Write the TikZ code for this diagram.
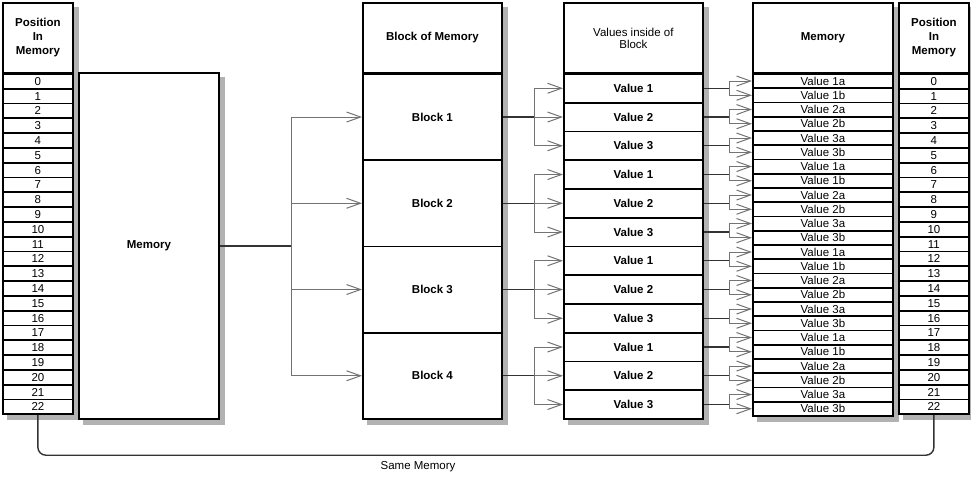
\documentclass[tikz,border=0pt]{standalone}
\usepackage{fontspec}
\setmainfont{Liberation Sans}
\usetikzlibrary{arrows.meta,backgrounds}

\begin{document}
\begin{tikzpicture}[
  x=1pt, y=-1pt,
  box/.style={draw, line width=1.8pt, fill=white, inner sep=1pt, anchor=north west,
    font=\fontsize{11.5}{12}\selectfont},
  hdr/.style={box, minimum height=70, align=center},
  poscell/.style={box, minimum width=70, minimum height=14.8},
  memcell/.style={box, minimum width=140, minimum height=14.25},
  valcell/.style={box, minimum width=139, minimum height=28.75, font=\fontsize{11.5}{12}\selectfont\bfseries},
  blkcell/.style={box, minimum width=139, minimum height=86.25, font=\fontsize{11.5}{12}\selectfont\bfseries},
  shadowbox/.style={fill=black!30},
  wire/.style={draw=black!80, line width=1.4pt},
  arr/.style={draw=black!55, line width=1pt, -{Straight Barb[length=14pt,width=10pt]}}]
\useasboundingbox (0,0) rectangle (971,477);

% headers
\node[hdr, minimum width=70, font=\fontsize{11.5}{14}\selectfont\bfseries] (posl) at (2,2) {Position\\In\\Memory};
\node[hdr, minimum width=139, font=\fontsize{11.5}{12}\selectfont\bfseries] (blkh) at (362,2) {Block of Memory};
\node[hdr, minimum width=139] (valh) at (563,2) {Values inside of\\Block};
\node[hdr, minimum width=140, font=\fontsize{11.5}{12}\selectfont\bfseries] (memh) at (752,2) {Memory};
\node[hdr, minimum width=70, font=\fontsize{11.5}{14}\selectfont\bfseries] (posr) at (898,2) {Position\\In\\Memory};

% position columns
\foreach \i in {0,...,22} {
  \node[poscell] (pl\i) at (2,{73+\i*14.8}) {\i};
  \node[poscell] (pr\i) at (898,{73+\i*14.8}) {\i};
}

% memory
\node[box, minimum width=140, minimum height=346, font=\fontsize{11.5}{12}\selectfont\bfseries] (mem) at (78,72) {Memory};

% blocks
\foreach \b in {1,...,4}
  \node[blkcell] (blk\b) at (362,{73+(\b-1)*86.25}) {Block \b};

% values
\foreach \b in {0,...,3}
  \foreach \v in {1,2,3} {
    \pgfmathtruncatemacro\n{\b*3+\v-1}
    \node[valcell] (val\n) at (563,{73+\n*28.75}) {Value \v};
  }

% memory cells
\foreach \b in {0,...,3}
  \foreach \v in {1,2,3}
    \foreach \s [count=\k from 0] in {a,b} {
      \pgfmathtruncatemacro\n{\b*6+(\v-1)*2+\k}
      \node[memcell] (m\n) at (752,{73+\n*14.25}) {Value \v\s};
    }

% shadows
\begin{pgfonlayer}{background}
  \foreach \a/\z in {posl/posl, pl0/pl22, mem/mem, blkh/blkh, blk1/blk4,
                     valh/valh, val0/val11, memh/memh, m0/m23, posr/posr, pr0/pr22}
    \fill[shadowbox] ([shift={(5,5)}]\a.north west) rectangle ([shift={(5,5)}]\z.south east);
\end{pgfonlayer}

% memory -> blocks
\draw[wire] (mem.east) -- ++(72,0) coordinate (hub);
\foreach \b in {1,...,4}
  \draw[arr] (hub) |- (blk\b.west);

% blocks -> values
\foreach \b in {1,...,4} {
  \draw[wire] (blk\b.east) -- ++(32,0) coordinate (bh\b);
  \foreach \k in {0,1,2} {
    \pgfmathtruncatemacro\j{(\b-1)*3+\k}
    \draw[arr] (bh\b) |- (val\j.west);
  }
}

% values -> memory cells
\foreach \n in {0,...,11} {
  \draw[wire] (val\n.east) -- ++(26,0) coordinate (vh\n);
  \pgfmathtruncatemacro\p{2*\n}
  \pgfmathtruncatemacro\q{2*\n+1}
  \draw[arr] (vh\n) |- (m\p.west);
  \draw[arr] (vh\n) |- (m\q.west);
}

% same memory
\draw[wire, rounded corners=8pt] (pl22.south) -- ++(0,40) -| (pr22.south);
\node[font=\fontsize{11.5}{12}\selectfont] (same) at (418,467) {Same Memory};
\end{tikzpicture}
\end{document}
